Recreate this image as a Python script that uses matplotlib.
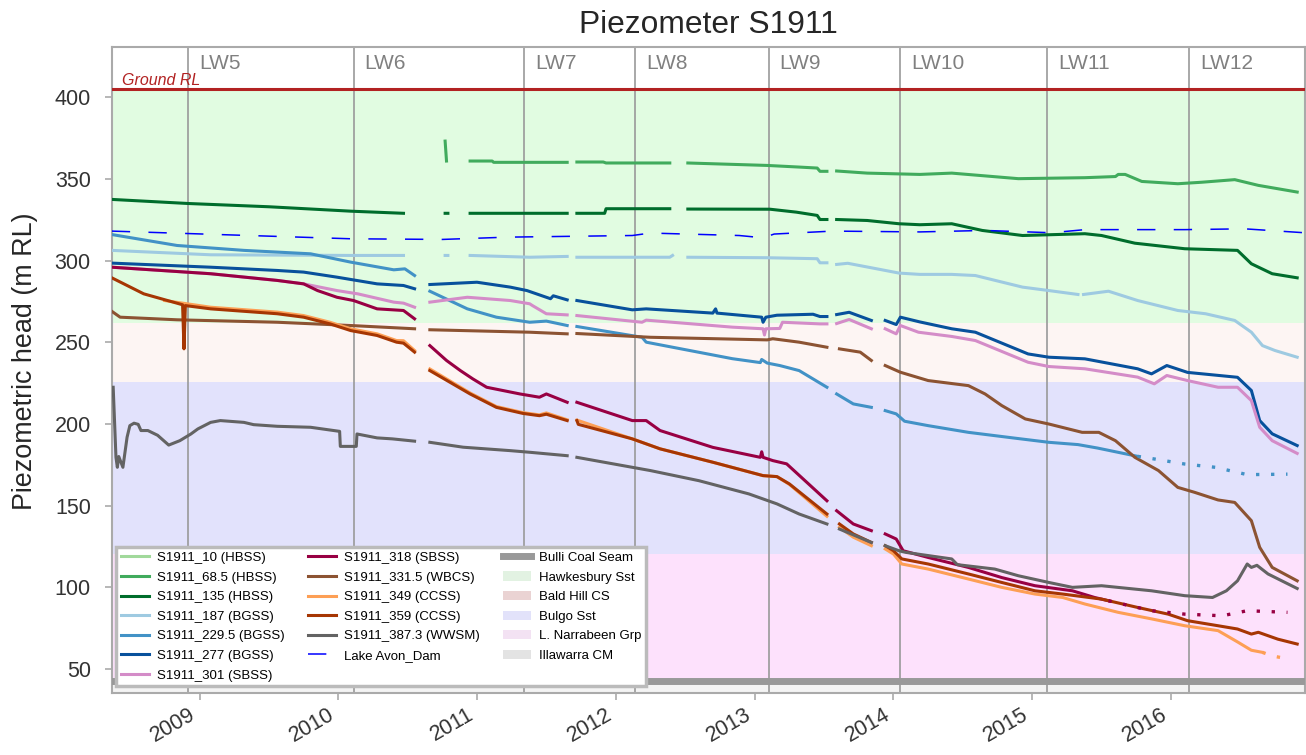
import numpy as np
import matplotlib.pyplot as plt
import matplotlib.dates as mdates
from matplotlib.patches import Patch
from matplotlib.lines import Line2D
from datetime import datetime, timedelta

plt.rcParams['font.family'] = ['Liberation Sans', 'DejaVu Sans']

GAP = (np.nan, np.nan)

## Piezometer readings: (decimal year, head in m RL), GAP = no data
s10 = []

s68 = [(2010.77, 373.2), (2010.78, 361.0), GAP, (2010.95, 361.0), (2011.11, 361.0), (2011.12, 360.2),
       (2011.65, 360.2), GAP, (2011.72, 360.4), (2011.91, 360.4), (2011.93, 359.8), (2012.39, 359.8), GAP,
       (2012.52, 359.8), (2013.09, 358.3), (2013.32, 357.3), (2013.45, 356.7), (2013.47, 354.7),
       (2013.52, 354.7), GAP, (2013.59, 354.9), (2013.81, 353.6), (2014.19, 352.8), (2014.42, 353.6),
       (2014.90, 350.2), (2015.38, 350.8), (2015.60, 351.5), (2015.62, 352.8), (2015.67, 352.8),
       (2015.79, 348.5), (2016.05, 347.1), (2016.22, 348.0), (2016.46, 349.6), (2016.63, 346.1),
       (2016.91, 342.0)]

s135 = [(2008.37, 337.5), (2008.92, 335.0), (2009.50, 333.0), (2010.09, 330.3), (2010.47, 329.0), GAP,
        (2010.77, 329.0), (2010.79, 329.0), GAP, (2010.95, 329.0), (2011.65, 329.0), GAP, (2011.72, 329.0),
        (2011.92, 329.0), (2011.93, 331.8), (2012.39, 331.8), GAP, (2012.52, 331.6), (2013.11, 331.5),
        (2013.30, 329.7), (2013.45, 327.7), (2013.47, 325.2), (2013.52, 325.2), GAP, (2013.59, 325.2),
        (2013.81, 324.6), (2014.04, 322.6), (2014.19, 322.0), (2014.42, 322.6), (2014.64, 318.5),
        (2014.93, 315.4), (2015.38, 316.5), (2015.50, 315.4), (2015.74, 310.7), (2016.10, 307.3),
        (2016.48, 306.3), (2016.58, 298.1), (2016.73, 292.0), (2016.91, 289.5)]

s187 = [(2008.37, 306.3), (2009.08, 303.6), (2010.09, 303.2), (2010.47, 303.2), GAP, (2010.77, 303.2),
        (2010.79, 303.2), GAP, (2010.95, 303.2), (2011.38, 302.1), (2011.65, 302.6), GAP, (2011.72, 302.1),
        (2012.39, 302.1), (2012.41, 303.2), GAP, (2012.52, 302.1), (2013.09, 301.8), (2013.45, 301.2),
        (2013.47, 298.7), (2013.52, 298.7), GAP, (2013.59, 297.7), (2013.67, 298.4), (2013.88, 295.0),
        (2014.04, 292.4), (2014.19, 291.6), (2014.42, 291.6), (2014.59, 290.9), (2014.93, 283.8),
        (2015.12, 281.7), (2015.33, 279.3), GAP, (2015.37, 279.3), (2015.55, 281.3), (2015.76, 275.6),
        (2016.05, 269.5), (2016.25, 267.5), (2016.46, 263.4), (2016.58, 256.2), (2016.66, 248.0),
        (2016.75, 245.0), (2016.91, 240.9)]

s229 = [(2008.37, 316.0), (2008.84, 309.3), (2009.32, 306.3), (2009.80, 304.2), (2010.09, 299.1),
        (2010.40, 294.4), (2010.48, 295.0), (2010.55, 290.9), GAP, (2010.66, 281.3), (2010.93, 270.5),
        (2011.14, 265.4), (2011.38, 262.3), (2011.50, 263.0), (2011.65, 260.3), GAP, (2011.72, 259.7),
        (2012.19, 253.1), (2012.22, 250.1), (2012.84, 240.0), (2013.04, 237.6), (2013.05, 239.5),
        (2013.09, 237.3), (2013.18, 235.8), (2013.32, 232.7), (2013.52, 222.5), GAP, (2013.59, 218.4),
        (2013.71, 212.3), (2013.84, 210.2), GAP, (2013.94, 208.2), (2014.02, 206.2), (2014.08, 201.7),
        (2014.25, 199.0), (2014.54, 194.9), (2014.86, 191.5), (2015.12, 188.8), (2015.33, 187.4),
        (2015.47, 185.3), (2015.76, 180.2)]
s229_dots = [(2015.76, 180.2), (2015.83, 179.3), (2016.10, 175.5), (2016.32, 173.5), (2016.55, 169.0),
             (2016.84, 169.3)]

s277 = [(2008.37, 298.5), (2009.08, 296.0), (2009.56, 294.0), (2009.75, 293.0), (2009.99, 289.9),
        (2010.28, 285.8), (2010.47, 284.8), (2010.55, 282.8), GAP, (2010.66, 285.4), (2011.00, 286.8),
        (2011.24, 283.8), (2011.36, 281.7), (2011.53, 276.7), (2011.55, 278.5), (2011.65, 276.0), GAP,
        (2011.72, 275.6), (2012.12, 269.9), (2012.22, 270.5), (2012.70, 267.9), (2012.72, 270.5),
        (2012.73, 267.9), (2013.05, 265.4), (2013.06, 262.3), (2013.08, 265.4), (2013.16, 266.6),
        (2013.42, 267.2), (2013.47, 265.8), (2013.52, 265.8), GAP, (2013.59, 267.0), (2013.68, 268.4),
        (2013.84, 263.4), GAP, (2013.94, 263.4), (2014.02, 260.9), (2014.05, 265.4), (2014.19, 262.5),
        (2014.42, 258.3), (2014.59, 256.2), (2014.97, 242.9), (2015.12, 240.9), (2015.38, 239.9),
        (2015.76, 233.8), (2015.86, 230.7), (2015.97, 235.8), (2016.12, 231.6), (2016.48, 228.6),
        (2016.58, 220.5), (2016.64, 202.1), (2016.73, 194.0), (2016.91, 186.8)]

s301 = [(2008.37, 296.0), (2009.08, 292.0), (2009.56, 287.9), (2009.75, 285.8), (2009.99, 281.7),
        (2010.14, 279.7), (2010.40, 274.6), (2010.47, 274.0), (2010.55, 271.5), GAP, (2010.66, 274.6),
        (2010.93, 277.6), (2011.24, 275.6), (2011.38, 273.6), (2011.40, 272.5), (2011.50, 267.5),
        (2011.65, 266.8), GAP, (2011.72, 266.4), (2012.19, 262.3), (2012.22, 263.6), (2012.84, 259.3),
        (2013.06, 258.3), (2013.07, 254.5), (2013.08, 258.3), (2013.18, 258.5), (2013.20, 262.3),
        (2013.47, 261.3), (2013.52, 261.3), GAP, (2013.59, 261.5), (2013.68, 264.0), (2013.84, 258.3), GAP,
        (2013.94, 258.3), (2014.02, 255.2), (2014.05, 260.3), (2014.18, 256.2), (2014.42, 253.6),
        (2014.59, 251.1), (2014.97, 237.8), (2015.12, 235.2), (2015.38, 233.8), (2015.76, 228.7),
        (2015.88, 224.6), (2015.97, 229.7), (2016.12, 226.6), (2016.34, 222.5), (2016.48, 222.5),
        (2016.58, 214.3), (2016.64, 198.0), (2016.73, 189.8), (2016.91, 182.0)]

s318 = [(2008.37, 296.0), (2009.08, 292.0), (2009.56, 287.9), (2009.75, 285.8), (2009.85, 281.7),
        (2009.99, 277.6), (2010.11, 275.6), (2010.28, 270.5), (2010.47, 269.5), (2010.55, 264.4), GAP,
        (2010.66, 248.0), (2010.78, 238.9), (2010.88, 232.7), (2010.97, 227.6), (2011.07, 222.5),
        (2011.31, 218.4), (2011.45, 216.4), (2011.50, 218.4), (2011.65, 213.3), GAP, (2011.72, 213.3),
        (2012.12, 202.1), (2012.22, 202.1), (2012.32, 196.0), (2012.70, 185.7), (2013.04, 179.6),
        (2013.05, 183.0), (2013.06, 179.6), (2013.13, 177.6), (2013.23, 175.6), (2013.52, 153.0), GAP,
        (2013.59, 146.9), (2013.71, 138.8), (2013.84, 134.7), GAP, (2013.94, 132.7), (2014.02, 129.6),
        (2014.07, 122.4), (2014.25, 118.3), (2014.54, 112.2), (2014.78, 106.0), (2015.02, 101.0),
        (2015.29, 97.9), (2015.45, 93.8), (2015.55, 91.8)]
s318_dots = [(2015.55, 91.8), (2015.65, 89.8), (2015.86, 85.7), (2016.10, 83.6), (2016.37, 82.6),
             (2016.55, 85.7), (2016.84, 84.7)]

s331 = [(2008.37, 269.0), (2008.43, 265.4), (2008.84, 263.8), (2009.56, 262.3), (2010.09, 260.3),
        (2010.55, 258.3), GAP, (2010.66, 257.7), (2011.38, 256.2), (2011.65, 255.2), GAP, (2011.72, 255.4),
        (2012.25, 253.1), (2013.09, 251.5), (2013.13, 252.2), (2013.32, 250.1), (2013.52, 247.0), GAP,
        (2013.61, 246.0), (2013.76, 244.0), (2013.84, 238.9), GAP, (2013.94, 235.8), (2014.05, 231.7),
        (2014.25, 226.6), (2014.54, 223.5), (2014.66, 218.4), (2014.78, 211.3), (2014.95, 203.1),
        (2015.12, 200.0), (2015.36, 194.9), (2015.48, 194.9), (2015.60, 189.8), (2015.74, 179.6),
        (2015.91, 171.5), (2016.05, 161.2), (2016.17, 158.2), (2016.34, 153.5), (2016.46, 152.0),
        (2016.58, 140.8), (2016.64, 124.5), (2016.73, 112.2), (2016.91, 104.0)]

s349 = [(2008.75, 275.6), (2009.08, 271.5), (2009.56, 268.5), (2009.75, 266.4), (2009.94, 262.3),
        (2010.09, 258.3), (2010.28, 255.2), (2010.42, 251.1), (2010.47, 251.0), (2010.55, 245.0), GAP,
        (2010.66, 233.7), (2010.95, 219.0), (2011.14, 210.7), (2011.33, 207.0), (2011.45, 205.6),
        (2011.50, 206.8), (2011.65, 202.6), GAP, (2011.72, 202.4), (2012.12, 190.9), (2012.32, 184.8),
        (2012.70, 176.6), (2013.06, 168.4), (2013.16, 167.8), (2013.25, 163.0), (2013.52, 143.5), GAP,
        (2013.61, 136.8), (2013.71, 130.7), (2013.84, 125.5), GAP, (2013.94, 123.5), (2014.00, 120.4),
        (2014.06, 114.3), (2014.25, 111.2), (2014.54, 105.1), (2014.78, 100.0), (2015.02, 95.9),
        (2015.22, 93.8), (2015.38, 89.8), (2015.62, 84.7), (2015.86, 80.7), (2016.10, 76.5),
        (2016.34, 73.5), (2016.48, 66.6), (2016.58, 61.5), (2016.66, 60.2)]
s349_dots = [(2016.66, 60.2), (2016.73, 58.0), (2016.84, 56.3)]

s359 = [(2008.37, 289.5), (2008.60, 279.7), (2008.88, 273.0), (2008.89, 246.0), (2008.90, 272.5),
        (2009.08, 270.5), (2009.56, 267.5), (2009.75, 265.4), (2009.94, 261.3), (2010.09, 257.2),
        (2010.28, 254.2), (2010.42, 250.1), (2010.47, 249.5), (2010.55, 244.0), GAP, (2010.66, 232.7),
        (2010.95, 218.4), (2011.14, 210.2), (2011.33, 206.5), (2011.45, 205.1), (2011.50, 206.0),
        (2011.65, 202.1), GAP, (2011.72, 202.1), (2011.73, 199.8), (2012.12, 190.9), (2012.32, 184.8),
        (2012.70, 176.6), (2013.06, 168.4), (2013.16, 167.8), (2013.25, 163.3), (2013.52, 144.9), GAP,
        (2013.61, 138.8), (2013.71, 132.7), (2013.84, 127.5), GAP, (2013.94, 125.5), (2014.00, 122.4),
        (2014.06, 117.4), (2014.25, 114.3), (2014.54, 108.2), (2014.78, 103.0), (2015.02, 97.9),
        (2015.22, 95.9), (2015.50, 92.8), (2015.76, 87.7), (2015.98, 83.6), (2016.12, 79.6),
        (2016.34, 76.5), (2016.48, 74.5), (2016.58, 71.4), (2016.63, 72.5), (2016.77, 68.3),
        (2016.91, 65.3)]

s387 = [(2008.38, 222.5), (2008.40, 179.6), (2008.41, 173.5), (2008.42, 180.1), (2008.45, 173.5),
        (2008.48, 191.9), (2008.50, 199.0), (2008.53, 200.5), (2008.56, 199.8), (2008.58, 196.0),
        (2008.63, 196.0), (2008.70, 193.1), (2008.78, 187.1), (2008.86, 189.8), (2008.94, 193.9),
        (2008.99, 197.0), (2009.08, 201.0), (2009.15, 202.1), (2009.32, 201.0), (2009.39, 199.6),
        (2009.56, 198.6), (2009.80, 198.0), (2010.01, 195.5), (2010.015, 186.3), (2010.13, 186.3),
        (2010.135, 193.9), (2010.28, 191.5), (2010.39, 190.9), (2010.55, 189.5), GAP, (2010.66, 188.8),
        (2010.90, 185.8), (2011.24, 183.7), (2011.38, 182.7), (2011.65, 180.6), GAP, (2011.72, 179.6),
        (2012.25, 171.5), (2012.60, 165.3), (2012.96, 157.2), (2013.16, 151.1), (2013.32, 144.9),
        (2013.52, 138.8), GAP, (2013.61, 135.7), (2013.84, 127.5), GAP, (2013.94, 125.5), (2014.04, 122.4),
        (2014.09, 121.4), (2014.42, 117.4), (2014.46, 113.9), (2014.73, 111.2), (2014.90, 107.1),
        (2015.12, 103.0), (2015.29, 100.0), (2015.50, 101.0), (2015.86, 97.9), (2016.10, 94.9),
        (2016.30, 93.8), (2016.40, 97.9), (2016.48, 104.0), (2016.55, 114.3), (2016.58, 112.2),
        (2016.62, 113.5), (2016.70, 108.2), (2016.91, 99.3)]

lake_avon = [(2008.37, 318.1), (2010.09, 313.4), (2010.75, 313.0), (2011.22, 314.4), (2012.12, 315.4),
             (2012.25, 316.9), (2012.89, 315.4), (2013.06, 314.0), (2013.14, 316.3), (2013.56, 318.1),
             (2014.19, 317.6), (2014.66, 318.5), (2015.14, 317.1), (2015.38, 319.0), (2016.10, 319.0),
             (2016.53, 319.5), (2016.96, 317.1)]

## Geology and reference levels (m RL)
ground_rl = 405
bulli_seam = 42.6
bands = [('Hawkesbury Sst', 262, 405, '#e1fce1', '#e2f2e2'),
         ('Bald Hill CS', 225.5, 262, '#fdf5f3', '#ead3d3'),
         ('Bulgo Sst', 120.5, 225.5, '#e2e2fc', '#e2e2fa'),
         ('L. Narrabeen Grp', 42.6, 120.5, '#fde1fc', '#f3e2f3'),
         ('Illawarra CM', 20, 42.6, '#f4f4f4', '#e3e3e3')]

## Longwall start dates
lw_names = ['LW5', 'LW6', 'LW7', 'LW8', 'LW9', 'LW10', 'LW11', 'LW12']
lw_start = [2008.92, 2010.11, 2011.34, 2012.14, 2013.10, 2014.05, 2015.11, 2016.13]

series = [('S1911_10 (HBSS)', s10, '#a1d99b'),
          ('S1911_68.5 (HBSS)', s68, '#41ab5d'),
          ('S1911_135 (HBSS)', s135, '#006d2c'),
          ('S1911_187 (BGSS)', s187, '#9ecae1'),
          ('S1911_229.5 (BGSS)', s229, '#4292c6'),
          ('S1911_277 (BGSS)', s277, '#08519c'),
          ('S1911_301 (SBSS)', s301, '#d48cc8'),
          ('S1911_318 (SBSS)', s318, '#980043'),
          ('S1911_331.5 (WBCS)', s331, '#8c5332'),
          ('S1911_349 (CCSS)', s349, '#fd9f55'),
          ('S1911_359 (CCSS)', s359, '#a63603'),
          ('S1911_387.3 (WWSM)', s387, '#636363')]
dotted = [(s229_dots, '#4292c6'), (s318_dots, '#980043'), (s349_dots, '#fd9f55')]


def to_num(yr):
    if np.isnan(yr):
        return np.nan
    y0 = int(yr)
    return mdates.date2num(datetime(y0, 1, 1) + timedelta(days=(yr - y0) * 365.25))


def xy(pairs):
    return [to_num(p[0]) for p in pairs], [p[1] for p in pairs]


fig = plt.figure(figsize=(13.06, 7.55), dpi=100)
ax = fig.add_axes([0.0855, 0.0825, 0.9137, 0.8548])

for name, lo, hi, c, _ in bands:
    ax.axhspan(lo, hi, color=c, lw=0, zorder=0)

for d in lw_start:
    ax.axvline(to_num(d), color='#999999', lw=1.2, zorder=1)
for name, d in zip(lw_names, lw_start):
    ax.annotate(name, (to_num(d), 420.5), xytext=(8, 0), textcoords='offset points',
                va='center', ha='left', fontsize=15, color='#808080')

ax.axhline(ground_rl, color='#b22222', lw=2.2, zorder=3)
ax.text(to_num(2008.44), ground_rl + 1, 'Ground RL', style='italic', fontsize=11.5,
        color='#b22222', va='bottom', ha='left')
ax.axhline(bulli_seam, color='#999999', lw=5, zorder=3)

handles = []
for name, data, c in series:
    t, v = xy(data)
    ln, = ax.plot(t, v, color=c, lw=2.2, label=name, zorder=4)
    handles.append(ln)
for data, c in dotted:
    t, v = xy(data)
    ax.plot(t, v, color=c, lw=2.4, ls=(0, (1, 3.5)), zorder=4)

t, v = xy(lake_avon)
ln, = ax.plot(t, v, color='#0000ff', lw=1.1, ls=(0, (12, 12)), zorder=4, label='Lake Avon_Dam')
handles.append(ln)

handles.append(Line2D([], [], color='#999999', lw=5, label='Bulli Coal Seam'))
for name, lo, hi, _, lc in bands:
    handles.append(Patch(facecolor=lc, edgecolor='none', label=name))

leg = ax.legend(handles=handles, ncol=3, loc='lower left', bbox_to_anchor=(0.004, 0.01),
                borderaxespad=0, fontsize=9.5, fancybox=False, framealpha=1, edgecolor='#bbbbbb',
                borderpad=0.35, handlelength=2.1, handletextpad=0.65, labelspacing=0.56,
                columnspacing=1.75)
leg.get_frame().set_linewidth(2.5)
leg.set_zorder(6)

ax.set_xlim(to_num(2008.369), to_num(2016.966))
ax.set_ylim(35.5, 430.6)
ax.set_yticks([50, 100, 150, 200, 250, 300, 350, 400])
ax.xaxis.set_major_locator(mdates.YearLocator())
ax.xaxis.set_major_formatter(mdates.DateFormatter('%Y'))
for lab in ax.get_xticklabels():
    lab.set_rotation(30)
    lab.set_ha('right')
ax.tick_params(direction='out', length=5, width=1.2, color='#aaaaaa', labelsize=15.5,
               labelcolor='#333333')
ax.tick_params(axis='y', pad=10)
for sp in ax.spines.values():
    sp.set_color('#aaaaaa')
    sp.set_linewidth(1.5)

ax.set_ylabel('Piezometric head (m RL)', fontsize=19.4, color='#262626')
ax.yaxis.set_label_coords(-0.0618, 0.514)
ax.set_title('Piezometer S1911', fontsize=22.9, color='#262626', pad=10)

fig.savefig('out.png', dpi=100)
